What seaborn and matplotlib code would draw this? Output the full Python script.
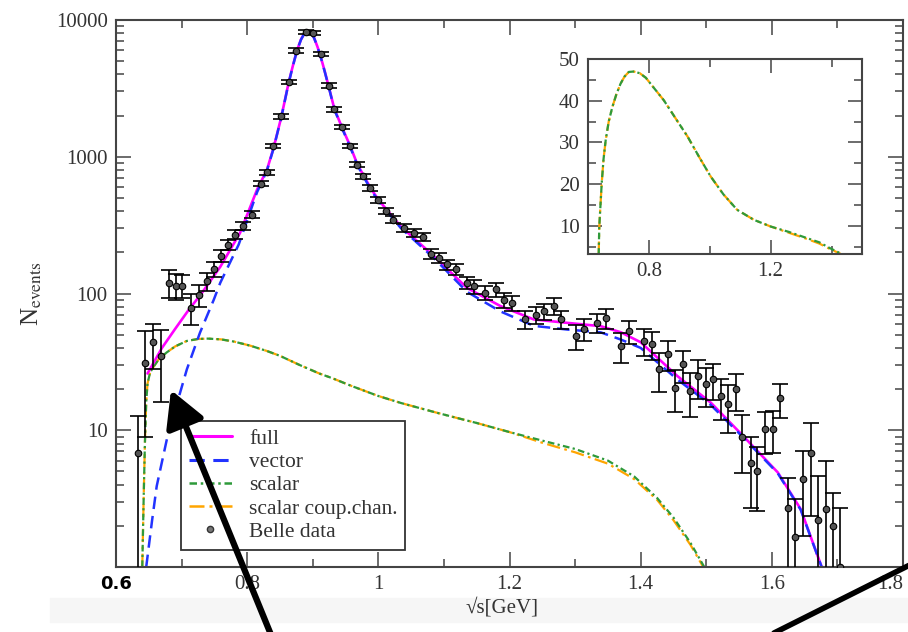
import matplotlib
matplotlib.use("Agg")
import matplotlib.pyplot as plt
import seaborn as sns
from matplotlib.lines import Line2D
from matplotlib.patches import FancyArrowPatch, Rectangle
from matplotlib.ticker import MultipleLocator, LogLocator, NullFormatter

# === DATA ===
belle_x = [0.633, 0.644, 0.657, 0.668, 0.680, 0.692, 0.700, 0.714, 0.727, 0.739,
           0.750, 0.760, 0.770, 0.782, 0.794, 0.807, 0.821, 0.830, 0.839, 0.852,
           0.863, 0.875, 0.889, 0.900, 0.912, 0.924, 0.933, 0.945, 0.957, 0.968,
           0.977, 0.988, 1.000, 1.012, 1.023, 1.039, 1.054, 1.068, 1.080, 1.092,
           1.105, 1.118, 1.135, 1.146, 1.163, 1.179, 1.191, 1.204, 1.224, 1.240,
           1.252, 1.268, 1.278, 1.301, 1.313, 1.334, 1.347, 1.370, 1.382, 1.405,
           1.418, 1.428, 1.441, 1.453, 1.464, 1.475, 1.487, 1.499, 1.510, 1.522,
           1.533, 1.545, 1.555, 1.568, 1.578, 1.589, 1.601, 1.613, 1.625, 1.636,
           1.647, 1.659, 1.670, 1.683, 1.694, 1.704]
belle_y = [6.8, 31, 44, 35, 120, 114, 114, 79, 98, 123,
           151, 189, 228, 270, 310, 377, 635, 767, 1200, 1970,
           3520, 5970, 8130, 8000, 5650, 3310, 2230, 1650, 1200, 875,
           718, 592, 485, 403, 347, 302, 277, 259, 195, 182,
           163, 150, 120, 113, 101, 107, 90, 85.5, 65, 70,
           74, 81, 64.6, 48.8, 54.6, 61, 66.4, 41, 53, 45,
           42.5, 27.9, 35.9, 20.5, 30.3, 19.4, 24.9, 21.7, 23.6, 17.8,
           15.5, 19.9, 8.9, 5.8, 5.05, 10.2, 10.3, 17.1, 2.68, 1.65,
           4.38, 6.87, 2.21, 2.65, 1.98, 1.0]
belle_err = [6.0, 22, 16, 19, 28, 25, 22, 20, 18, 18,
             18, 20, 20, 20, 21, 22, 28, 30, 45, 75,
             130, 230, 280, 280, 210, 130, 90, 65, 48, 36,
             30, 26, 23, 21, 20, 18, 17, 17, 15, 15,
             14, 14, 13, 13, 12, 12, 11, 11, 10, 10,
             10, 11, 10, 10, 10, 10, 11, 10, 10, 10,
             10, 9, 9, 7, 8, 7, 8, 7, 7, 6,
             6, 6, 4, 3.1, 2.5, 3.5, 3.5, 4.8, 1.8, 1.5,
             2.7, 4.5, 2.4, 3.3, 1.5, 1.7]

full_x = [0.648, 0.657, 0.670, 0.690, 0.710, 0.731, 0.759, 0.789, 0.815, 0.830,
          0.840, 0.852, 0.863, 0.870, 0.876, 0.882, 0.887, 0.892, 0.897, 0.902,
          0.907, 0.912, 0.918, 0.924, 0.933, 0.945, 0.957, 0.968, 0.988, 1.000,
          1.034, 1.085, 1.135, 1.186, 1.237, 1.288, 1.339, 1.370, 1.400, 1.456,
          1.507, 1.558, 1.609, 1.644, 1.676]
full_y = [26, 31, 40, 55, 75, 101, 157, 277, 574, 800,
          1150, 1950, 3450, 4700, 6000, 7200, 7950, 8300, 8150, 7400,
          6400, 5400, 4250, 3300, 2230, 1620, 1200, 880, 592, 485,
          310, 187, 110, 81, 64.6, 61, 57.7, 52, 44, 24.9,
          15.9, 8.9, 4.92, 2.65, 1.0]

vector_x = [0.646, 0.655, 0.662, 0.672, 0.682, 0.695, 0.708, 0.718, 0.728, 0.749,
            0.759, 0.787, 0.815, 0.830, 0.840, 0.852, 0.863, 0.870, 0.876, 0.882,
            0.887, 0.892, 0.897, 0.902, 0.907, 0.912, 0.918, 0.924, 0.933, 0.945,
            0.957, 0.968, 0.988, 1.000, 1.034, 1.085, 1.135, 1.186, 1.237, 1.288,
            1.339, 1.370, 1.400, 1.456, 1.507, 1.558, 1.609, 1.644, 1.676]
vector_y = [1.0, 2.2, 3.9, 6.5, 10.8, 17, 27.9, 38, 51.7, 90,
            120, 228, 550, 790, 1140, 1940, 3430, 4680, 5980, 7180,
            7930, 8280, 8130, 7380, 6380, 5380, 4230, 3280, 2210, 1600,
            1180, 865, 580, 474, 302, 181, 103, 74, 58, 54.5,
            52, 46, 40, 23.5, 15.3, 8.7, 4.85, 2.62, 1.0]

scalar_x = [0.640, 0.642, 0.644, 0.646, 0.648, 0.652, 0.658, 0.665, 0.677, 0.690,
            0.708, 0.725, 0.740, 0.760, 0.780, 0.805, 0.830, 0.850, 0.880, 0.910,
            0.930, 0.960, 1.000, 1.035, 1.090, 1.120, 1.150, 1.200, 1.250, 1.300,
            1.350, 1.390, 1.425, 1.450, 1.476, 1.497]
scalar_y = [1.0, 3.0, 8.0, 16, 22, 26.5, 29.5, 33, 37, 41,
            45, 46.5, 46.8, 46.2, 44.5, 41.5, 38, 35, 30, 26,
            24, 21, 17.8, 15.8, 13.4, 12.3, 11.3, 9.7, 8.4, 7.3,
            6.0, 4.6, 3.2, 2.3, 1.5, 1.0]
coup_y = [1.0, 3.0, 8.0, 16, 22, 26.5, 29.5, 33, 37, 41,
          45, 46.5, 46.8, 46.2, 44.5, 41.5, 38, 35, 30, 26,
          24, 21, 17.8, 15.8, 13.4, 12.3, 11.3, 9.7, 8.1, 6.9,
          5.7, 4.4, 3.1, 2.2, 1.45, 0.97]

inset_x = [0.635, 0.637, 0.641, 0.645, 0.651, 0.658, 0.668, 0.680, 0.693, 0.707,
           0.720, 0.734, 0.750, 0.770, 0.790, 0.815, 0.849, 0.890, 0.927, 0.965,
           1.003, 1.045, 1.090, 1.145, 1.200, 1.260, 1.320, 1.360, 1.395, 1.428,
           1.445]
inset_scalar = [3.0, 9.8, 15, 20.2, 26, 30.5, 35, 38.5, 41.5, 44.1,
                45.8, 46.9, 47.0, 46.6, 45.5, 43.2, 40.1, 35.5, 31.4, 26.5,
                21.8, 17.5, 13.8, 11.4, 9.8, 8.5, 7.0, 6.0, 4.6, 3.4,
                2.6]
inset_coup = [3.0, 9.8, 15, 20.2, 26, 30.5, 35, 38.5, 41.5, 44.1,
              45.8, 46.9, 47.0, 46.6, 45.5, 43.2, 40.1, 35.5, 31.4, 26.5,
              21.8, 17.5, 13.8, 11.4, 9.8, 8.3, 6.8, 5.7, 4.4, 3.3,
              2.5]

legend_labels = ["full", "vector", "scalar", "scalar coup.chan.", "Belle data"]
xtick_vals = [0.6, 0.8, 1.0, 1.2, 1.4, 1.6, 1.8]
xtick_labels = ["0.6", "0.8", "1", "1.2", "1.4", "1.6", "1.8"]
ytick_vals = [10, 100, 1000, 10000]
ytick_labels = ["10", "100", "1000", "10000"]

# === STYLE ===
C_FULL = "#ff00ff"
C_VEC = "#2233ff"
C_SCAL = "#2e9a3a"
C_COUP = "#ffa500"
LS_VEC = (0, (5, 2.8))
LS_SCAL = (0, (3, 1.5, 1, 1.5))
LS_COUP = (0, (6, 2, 1.2, 2))
TXT = "#333333"

sns.set_theme(style="ticks")
plt.rcParams["font.family"] = ["Liberation Serif", "DejaVu Serif"]
plt.rcParams["mathtext.fontset"] = "stix"

fig = plt.figure(figsize=(9.08, 6.32), dpi=100)
ax = fig.add_axes([0.1278, 0.1028, 0.8667, 0.8656])
ax.set_facecolor("white")

# curves
sns.lineplot(x=scalar_x, y=coup_y, ax=ax, color=C_COUP, linewidth=1.6,
             linestyle=LS_COUP, estimator=None, sort=False, legend=False)
sns.lineplot(x=scalar_x, y=scalar_y, ax=ax, color=C_SCAL, linewidth=1.6,
             linestyle=LS_SCAL, estimator=None, sort=False, legend=False)
sns.lineplot(x=full_x, y=full_y, ax=ax, color=C_FULL, linewidth=1.9,
             estimator=None, sort=False, legend=False)
sns.lineplot(x=vector_x, y=vector_y, ax=ax, color=C_VEC, linewidth=1.8,
             linestyle=LS_VEC, estimator=None, sort=False, legend=False)

# data
ax.errorbar(belle_x, belle_y, yerr=belle_err, fmt="none", ecolor="black",
            elinewidth=1.2, capsize=6, capthick=1.2, zorder=5)
sns.scatterplot(x=belle_x, y=belle_y, ax=ax, s=22, color="#555555",
                edgecolor="black", linewidth=0.8, zorder=6, legend=False)

ax.set_yscale("log")
ax.set_xlim(0.6, 1.8)
ax.set_ylim(1, 10000)

ax.set_xticks(xtick_vals)
ax.set_xticklabels(xtick_labels, fontsize=15, color=TXT)
ax.xaxis.set_minor_locator(MultipleLocator(0.1))
ax.set_yticks(ytick_vals)
ax.set_yticklabels(ytick_labels, fontsize=15, color=TXT)
ax.yaxis.set_minor_locator(LogLocator(base=10, subs=range(2, 10)))
ax.yaxis.set_minor_formatter(NullFormatter())

xlabs = ax.get_xticklabels()
xlabs[0].set_fontfamily("DejaVu Sans")
xlabs[0].set_fontweight("bold")
xlabs[0].set_color("black")
xlabs[0].set_fontsize(13)
xlabs[-1].set_horizontalalignment("right")

ax.tick_params(which="both", direction="in", top=True, right=True,
               color="#444444", width=1.1, pad=6)
ax.tick_params(which="major", length=11)
ax.tick_params(which="minor", length=5.5)
for s in ax.spines.values():
    s.set_linewidth(1.5)
    s.set_color("#444444")

ax.set_xlabel("√s[GeV]", fontsize=15, color=TXT)
ax.xaxis.set_label_coords(0.49, -0.055)
ax.set_ylabel(r"N$_{\rm events}$", fontsize=18, color=TXT)
ax.yaxis.set_label_coords(-0.092, 0.5)

handles = [
    Line2D([], [], color=C_FULL, linewidth=2.2),
    Line2D([], [], color=C_VEC, linewidth=2.2, linestyle=LS_VEC),
    Line2D([], [], color=C_SCAL, linewidth=1.8, linestyle=LS_SCAL),
    Line2D([], [], color=C_COUP, linewidth=1.8, linestyle=LS_COUP),
    Line2D([], [], linestyle="none", marker="o", markersize=4.5,
           markerfacecolor="#777777", markeredgecolor="#333333"),
]
leg = ax.legend(handles, legend_labels, loc="lower left",
                bbox_to_anchor=(0.0827, 0.032), borderaxespad=0, fontsize=15.5,
                frameon=True, fancybox=False, edgecolor="#333333", framealpha=1,
                handlelength=2.0, handletextpad=0.8, labelspacing=0.15,
                borderpad=0.35)
leg.get_frame().set_linewidth(1.3)
for t in leg.get_texts():
    t.set_color(TXT)

# inset
axin = fig.add_axes([0.6476, 0.5981, 0.3017, 0.3085])
axin.set_facecolor("white")
sns.lineplot(x=inset_x, y=inset_coup, ax=axin, color=C_COUP, linewidth=1.6,
             linestyle=LS_COUP, estimator=None, sort=False, legend=False)
sns.lineplot(x=inset_x, y=inset_scalar, ax=axin, color=C_SCAL, linewidth=1.6,
             linestyle=LS_SCAL, estimator=None, sort=False, legend=False)
axin.set_xlim(0.6, 1.5)
axin.set_ylim(3.2, 50)
axin.xaxis.set_major_locator(MultipleLocator(0.4))
axin.xaxis.set_minor_locator(MultipleLocator(0.2))
axin.yaxis.set_major_locator(MultipleLocator(10))
axin.yaxis.set_minor_locator(MultipleLocator(5))
axin.tick_params(which="both", direction="in", top=True, right=True,
                 color="#444444", width=1.1, labelsize=15, labelcolor=TXT, pad=6)
axin.tick_params(which="major", length=10)
axin.tick_params(which="minor", length=5.5)
for s in axin.spines.values():
    s.set_linewidth(1.5)
    s.set_color("#444444")

# faint band under the axis and the black pointers
fig.add_artist(Rectangle((0.055, 0.016), 0.95, 0.038, transform=fig.transFigure,
                         color="#f6f6f6", zorder=-1))
arrow = FancyArrowPatch(posA=(0.3029, -0.02), posB=(0.1883, 0.3829),
                        transform=fig.transFigure,
                        arrowstyle="-|>,head_length=1.0,head_width=0.55",
                        mutation_scale=22, linewidth=4.5, color="black",
                        shrinkA=0, shrinkB=0, zorder=10)
fig.add_artist(arrow)
fig.add_artist(Line2D([0.837, 1.013], [-0.0127, 0.114], transform=fig.transFigure,
                      color="black", linewidth=4, zorder=10))

fig.savefig("out.png", dpi=100)
plt.close(fig)
